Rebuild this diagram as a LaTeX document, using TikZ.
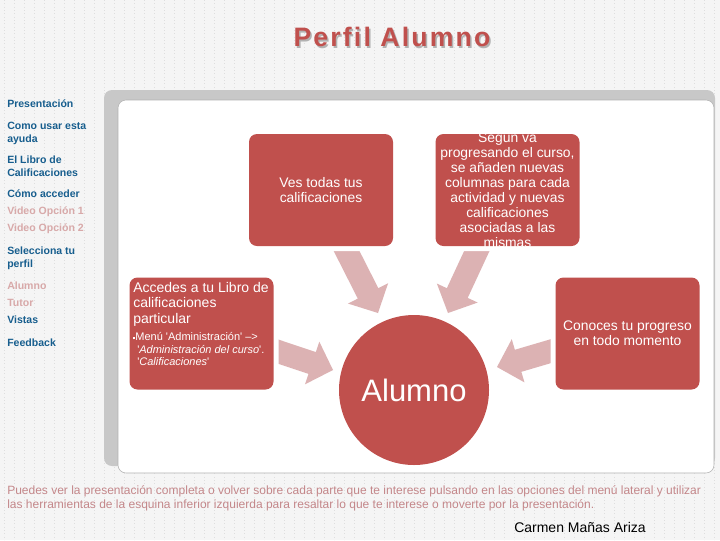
\documentclass[tikz,border=0pt]{standalone}
\usepackage{fontspec}
\setmainfont{Liberation Sans}[Ligatures=TeXOff]
\usetikzlibrary{calc}
\definecolor{boxred}{HTML}{C0504D}
\definecolor{arrowpink}{HTML}{DCB2B3}
\definecolor{menublue}{HTML}{175E8E}
\definecolor{menupink}{HTML}{D8A9A9}
\definecolor{notepink}{HTML}{C4878A}
\definecolor{bggrey}{HTML}{F5F5F5}
\definecolor{dotgrey}{HTML}{DEDEDE}
\definecolor{shadowgrey}{HTML}{C8C8C8}
\newcommand\blockarrow[2]{%
  \coordinate (#1-h) at ($(#2)!16.5pt!(#1)$);
  \fill[arrowpink] ($(#1)!8.625pt!90:(#2)$) -- ($(#1-h)!8.625pt!90:(#2)$)
    -- ($(#1-h)!16.875pt!90:(#2)$) -- (#2)
    -- ($(#1-h)!16.875pt!-90:(#2)$) -- ($(#1-h)!8.625pt!-90:(#2)$)
    -- ($(#1)!8.625pt!-90:(#2)$) -- cycle;}
\begin{document}
\begin{tikzpicture}[x=0.75pt,y=-0.75pt,
  redbox/.style={fill=boxred, rounded corners=6pt, minimum width=108pt,
    minimum height=84pt, inner sep=0pt, preaction={draw=white, line width=7.5pt}},
  boxtext/.style={text=white, align=center, inner sep=0pt,
    font=\fontsize{10.4}{11.25}\selectfont},
  menu/.style={anchor=west, align=left, inner sep=0pt,
    font=\fontsize{7.9}{9.75}\selectfont\bfseries},
  gridline/.style={dotgrey, line width=0.5pt, dotted}]
\useasboundingbox (0,0) rectangle (720,540);
\fill[bggrey] (0,0) rectangle (720,540);
\foreach \x in {4,14,...,720} \draw[gridline] (\x,0) -- (\x,540);

% title
\node[text=black!30, font=\fontsize{20}{24}\selectfont\bfseries\addfontfeatures{LetterSpace=8}] (titleshadow) at (393.5,38.5) {Perfil Alumno};
\node[text=boxred, font=\fontsize{20}{24}\selectfont\bfseries\addfontfeatures{LetterSpace=8}] (title) at (392,37) {Perfil Alumno};

% menu
\node[menu, text=menublue] (m1) at (7,104) {Presentación};
\node[menu, text=menublue] (m2) at (7,133.5) {Como usar esta\\ayuda};
\node[menu, text=menublue] (m3) at (7,166.5) {El Libro de\\Calificaciones};
\node[menu, text=menublue] (m4) at (7,194) {Cómo acceder};
\node[menu, text=menupink] (m5) at (7,212) {Video Opción 1};
\node[menu, text=menupink] (m6) at (7,229) {Video Opción 2};
\node[menu, text=menublue] (m7) at (7,258.5) {Selecciona tu\\perfil};
\node[menu, text=menupink] (m8) at (7,286) {Alumno};
\node[menu, text=menupink] (m9) at (7,303) {Tutor};
\node[menu, text=menublue] (m10) at (7,320) {Vistas};
\node[menu, text=menublue] (m11) at (7,343) {Feedback};

% panel
\fill[shadowgrey, rounded corners=6pt] (104,90) rectangle (715,466);
\draw[fill=white, draw=black!30, rounded corners=6pt] (118,100) rectangle (714,473);

% arrows
\coordinate (a1) at (341.5,241); \coordinate (t1) at (378,313);
\coordinate (a2) at (481,242);   \coordinate (t2) at (448,313);
\coordinate (a3) at (267.5,348); \coordinate (t3) at (333,370);
\coordinate (a4) at (561.5,348); \coordinate (t4) at (497,367);
\blockarrow{a1}{t1}
\blockarrow{a2}{t2}
\blockarrow{a3}{t3}
\blockarrow{a4}{t4}

% boxes
\node[redbox] (ves) at (321,190) {};
\node[boxtext] (vestext) at (ves.center) {Ves todas tus\\calificaciones};
\node[redbox] (segun) at (507.5,190) {};
\node[boxtext] (seguntext) at (segun.center) {Según va\\progresando el curso,\\se añaden nuevas\\columnas para cada\\actividad y nuevas\\calificaciones\\asociadas a las\\mismas};
\node[redbox] (accedes) at (201.5,333.5) {};
\node[text=white, align=left, inner sep=0pt, anchor=north west,
  font=\fontsize{10.5}{11.6}\selectfont] (accedestext) at (133,282)
  {Accedes a tu Libro de\\calificaciones\\particular};
\node[text=white, align=left, inner sep=0pt, anchor=north west,
  font=\fontsize{8.25}{9.4}\selectfont] (accedessub) at (133,332.5)
  {\rule[0.25ex]{1.6pt}{1.6pt}Menú 'Administración' –>\\
   \hspace*{3pt}'\textit{Administración del curso}'.\\
   \hspace*{3pt}'\textit{Calificaciones}'};
\node[redbox] (conoces) at (627.5,333.5) {};
\node[boxtext] (conocestext) at (conoces.center) {Conoces tu progreso\\en todo momento};
\node[circle, fill=boxred, minimum size=112.5pt, inner sep=0pt, text=white,
  font=\fontsize{23.25}{28}\selectfont] (alumno) at (414,390) {Alumno};

% footer
\node[anchor=west, align=left, inner sep=0pt, text=notepink,
  font=\fontsize{9}{10.5}\selectfont] (note) at (7,498)
  {Puedes ver la presentación completa o volver sobre cada parte que te interese pulsando en las opciones del menú lateral y utilizar\\
   las herramientas de la esquina inferior izquierda para resaltar lo que te interese o moverte por la presentación.};
\node[inner sep=0pt, font=\fontsize{10.5}{12.6}\selectfont] (author) at (580,527) {Carmen Mañas Ariza};
\end{tikzpicture}
\end{document}
